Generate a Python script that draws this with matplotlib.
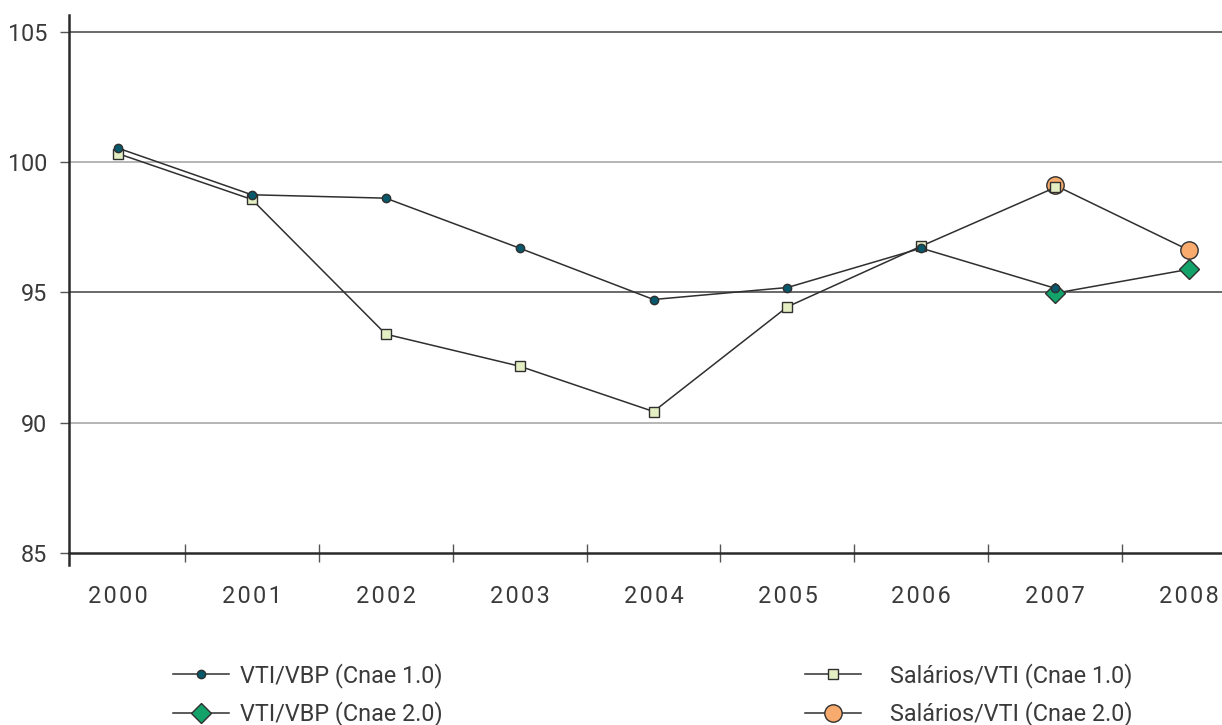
import matplotlib
matplotlib.use("Agg")
import matplotlib.pyplot as plt

plt.rcParams['font.family'] = ['Roboto', 'DejaVu Sans']

# Índices por ano
years = ['2000', '2001', '2002', '2003', '2004', '2005', '2006', '2007', '2008']
years_cnae10 = years[:8]
years_cnae20 = years[7:]
vti_vbp_cnae10 = [100.54, 98.75, 98.62, 96.70, 94.73, 95.19, 96.70, 95.16]
salarios_vti_cnae10 = [100.33, 98.57, 93.40, 92.17, 90.43, 94.45, 96.78, 99.03]
vti_vbp_cnae20 = [94.97, 95.89]
salarios_vti_cnae20 = [99.11, 96.62]
y_ticks = [85, 90, 95, 100, 105]

W, H = 1222, 725
FS = 16.8
TXT = '#3a3a3a'
fig = plt.figure(figsize=(W / 100, H / 100), dpi=100)
ax = fig.add_axes([69 / W, 1 - 553 / H, 1 - 69 / W, (553 - 15) / H])

x10 = [years.index(y) for y in years_cnae10]
x20 = [years.index(y) for y in years_cnae20]

line_kw = dict(color='#2f2f2f', linewidth=1.1, markeredgecolor='#2f2f2f', markeredgewidth=1.0)

h_sal20, = ax.plot(x20, salarios_vti_cnae20, marker='o', markersize=12.5,
                   markerfacecolor='#f8ab6c', label='Salários/VTI (Cnae 2.0)', zorder=3, **line_kw)
h_vti20, = ax.plot(x20, vti_vbp_cnae20, marker='D', markersize=10.5,
                   markerfacecolor='#13a36a', label='VTI/VBP (Cnae 2.0)', zorder=3, **line_kw)
h_sal10, = ax.plot(x10, salarios_vti_cnae10, marker='s', markersize=7.2,
                   markerfacecolor='#e4eec3', label='Salários/VTI (Cnae 1.0)', zorder=4, **line_kw)
h_vti10, = ax.plot(x10, vti_vbp_cnae10, marker='o', markersize=6,
                   markerfacecolor='#07586b', label='VTI/VBP (Cnae 1.0)', zorder=5, **line_kw)

# linhas de grade alternando tons
for i, v in enumerate(y_ticks[1:]):
    ax.axhline(v, color='#5e5e5e' if i % 2 else '#b0b0b0', linewidth=1.3, zorder=1)

ax.set_ylim(85, 105.65)
ax.set_xlim(-0.366, 8.246)
ax.set_yticks(y_ticks)
ax.set_xticks(range(len(years)))
# anos com espaçamento entre dígitos
ax.set_xticklabels(['\u200a'.join(y) for y in years])
ax.set_xticks([i + 0.5 for i in range(len(years) - 1)], minor=True)

ax.tick_params(axis='x', which='major', length=0, pad=23, labelsize=FS, labelcolor=TXT)
ax.tick_params(axis='x', which='minor', direction='inout', length=13, width=1.0, color='#555555')
ax.tick_params(axis='y', direction='out', length=6.5, width=1.0, color='#555555', pad=9,
               labelsize=FS, labelcolor=TXT)

for s in ['top', 'right']:
    ax.spines[s].set_visible(False)
ax.spines['left'].set_linewidth(1.8)
ax.spines['left'].set_color('#2a2a2a')
ax.spines['left'].set_bounds(84.55, 105.65)
ax.spines['bottom'].set_linewidth(1.8)
ax.spines['bottom'].set_color('#2a2a2a')

leg_kw = dict(loc='upper left', frameon=False, fontsize=FS, borderpad=0, borderaxespad=0,
              handlelength=2.4, labelspacing=0.58, labelcolor=TXT)
leg1 = fig.legend(handles=[h_vti10, h_vti20], bbox_to_anchor=(173 / W, 1 - 663 / H),
                  handletextpad=0.47, **leg_kw)
leg2 = fig.legend(handles=[h_sal10, h_sal20], bbox_to_anchor=(805 / W, 1 - 663 / H),
                  handletextpad=1.25, **leg_kw)

fig.savefig('out.png', dpi=100)
